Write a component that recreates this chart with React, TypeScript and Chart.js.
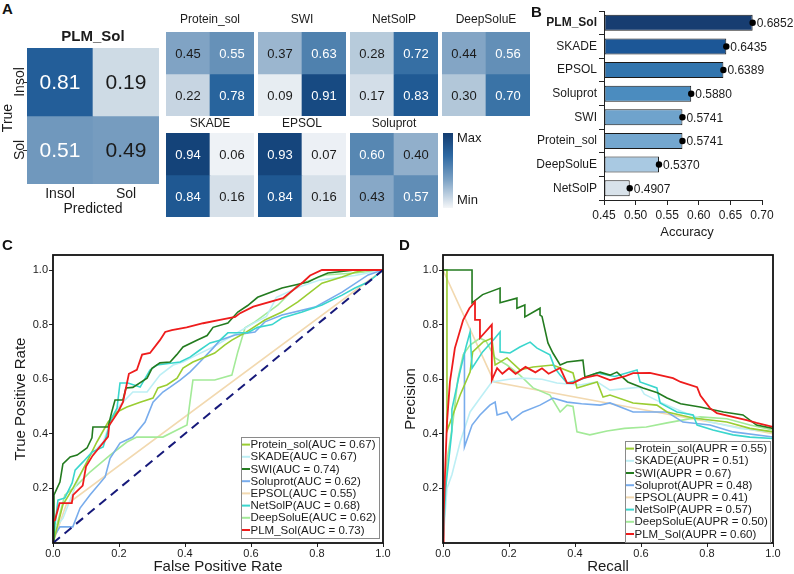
import React, { useEffect, useRef } from 'react';
import { Chart, registerables } from 'chart.js';

Chart.register(...registerables);

const FONT = '"Liberation Sans", Arial, Helvetica, sans-serif';
Chart.defaults.font.family = FONT;
Chart.defaults.color = '#222';

// ---------------- Panel A: confusion matrices (rows = true Insol / Sol, cols = predicted Insol / Sol)
const cmLabels = ['Insol', 'Sol'];
const cmPLMSol = [[0.81, 0.19], [0.51, 0.49]];
const cmProteinSol = [[0.45, 0.55], [0.22, 0.78]];
const cmSWI = [[0.37, 0.63], [0.09, 0.91]];
const cmNetSolP = [[0.28, 0.72], [0.17, 0.83]];
const cmDeepSoluE = [[0.44, 0.56], [0.30, 0.70]];
const cmSKADE = [[0.94, 0.06], [0.84, 0.16]];
const cmEPSOL = [[0.93, 0.07], [0.84, 0.16]];
const cmSoluprot = [[0.60, 0.40], [0.43, 0.57]];

// ---------------- Panel B: accuracy
const accModels = ['PLM_Sol', 'SKADE', 'EPSOL', 'Soluprot', 'SWI', 'Protein_sol', 'DeepSoluE', 'NetSolP'];
const accValues = [0.6852, 0.6435, 0.6389, 0.5880, 0.5741, 0.5741, 0.5370, 0.4907];
const accTicks = [0.45, 0.50, 0.55, 0.60, 0.65, 0.70];

// ---------------- Panels C / D
const curveModels = ['Protein_sol', 'SKADE', 'SWI', 'Soluprot', 'EPSOL', 'NetSolP', 'DeepSoluE', 'PLM_Sol'];
const aucValues = [0.67, 0.67, 0.74, 0.62, 0.55, 0.68, 0.62, 0.73];
const auprValues = [0.55, 0.51, 0.67, 0.48, 0.41, 0.57, 0.50, 0.60];
const curveTicksX = [0, 0.2, 0.4, 0.6, 0.8, 1.0];
const curveTicksY = [0.2, 0.4, 0.6, 0.8, 1.0];
const chanceLine = [[0, 0], [1, 1]];

const rocProteinSol = [[0, 0], [0.012, 0.055], [0.03, 0.14], [0.06, 0.2], [0.103, 0.297], [0.133, 0.37], [0.167, 0.443], [0.194, 0.48], [0.224, 0.498], [0.264, 0.516], [0.303, 0.531], [0.318, 0.568], [0.345, 0.579], [0.376, 0.604], [0.394, 0.641], [0.424, 0.663], [0.476, 0.689], [0.49, 0.696], [0.52, 0.725], [0.542, 0.743], [0.582, 0.77], [0.642, 0.817], [0.694, 0.846], [0.742, 0.883], [0.815, 0.952], [0.876, 0.974], [0.915, 0.992], [0.95, 1], [1, 1]];
const rocSKADE = [[0, 0], [0.006, 0.055], [0.03, 0.09], [0.073, 0.223], [0.112, 0.322], [0.152, 0.37], [0.182, 0.469], [0.203, 0.505], [0.242, 0.553], [0.285, 0.553], [0.324, 0.615], [0.364, 0.652], [0.394, 0.663], [0.436, 0.689], [0.485, 0.718], [0.53, 0.75], [0.6, 0.8], [0.647, 0.83], [0.677, 0.9], [0.748, 0.939], [0.808, 0.963], [0.915, 0.98], [1, 1]];
const rocSWI = [[0, 0], [0.003, 0.176], [0.021, 0.223], [0.03, 0.29], [0.052, 0.315], [0.073, 0.322], [0.103, 0.348], [0.118, 0.385], [0.121, 0.425], [0.167, 0.425], [0.178, 0.48], [0.188, 0.524], [0.212, 0.524], [0.221, 0.568], [0.242, 0.57], [0.285, 0.604], [0.3, 0.64], [0.324, 0.66], [0.355, 0.663], [0.375, 0.69], [0.394, 0.718], [0.436, 0.743], [0.467, 0.76], [0.485, 0.79], [0.53, 0.806], [0.56, 0.846], [0.59, 0.87], [0.62, 0.9], [0.694, 0.934], [0.773, 0.956], [0.803, 0.974], [0.833, 0.989], [0.915, 1], [1, 1]];
const rocSoluprot = [[0, 0], [0.006, 0.029], [0.021, 0.059], [0.06, 0.059], [0.082, 0.128], [0.112, 0.176], [0.158, 0.242], [0.173, 0.31], [0.203, 0.366], [0.242, 0.388], [0.279, 0.443], [0.303, 0.516], [0.333, 0.553], [0.355, 0.571], [0.385, 0.597], [0.415, 0.626], [0.445, 0.663], [0.485, 0.714], [0.506, 0.743], [0.552, 0.762], [0.612, 0.773], [0.642, 0.81], [0.694, 0.835], [0.794, 0.864], [0.876, 0.919], [0.955, 0.982], [1, 1]];
const rocEPSOL = [[0, 0], [0.04, 0.14], [1, 1]];
const rocNetSolP = [[0, 0], [0.006, 0.066], [0.015, 0.157], [0.036, 0.165], [0.058, 0.22], [0.067, 0.267], [0.091, 0.297], [0.118, 0.333], [0.152, 0.352], [0.178, 0.458], [0.194, 0.494], [0.203, 0.586], [0.227, 0.586], [0.264, 0.571], [0.294, 0.634], [0.315, 0.652], [0.385, 0.663], [0.415, 0.681], [0.445, 0.707], [0.476, 0.733], [0.506, 0.743], [0.53, 0.77], [0.59, 0.77], [0.62, 0.79], [0.664, 0.8], [0.694, 0.824], [0.755, 0.846], [0.815, 0.872], [0.876, 0.908], [0.915, 0.934], [0.955, 0.956], [1, 1]];
const rocDeepSoluE = [[0, 0], [0.006, 0.04], [0.036, 0.176], [0.073, 0.212], [0.112, 0.26], [0.173, 0.322], [0.224, 0.37], [0.254, 0.388], [0.333, 0.388], [0.406, 0.432], [0.415, 0.516], [0.424, 0.597], [0.49, 0.597], [0.542, 0.615], [0.56, 0.7], [0.582, 0.788], [0.612, 0.81], [0.682, 0.872], [0.742, 0.945], [0.824, 0.982], [0.915, 0.989], [1, 1]];
const rocPLMSol = [[0, 0], [0, 0.08], [0.006, 0.084], [0.02, 0.146], [0.057, 0.146], [0.061, 0.176], [0.09, 0.21], [0.1, 0.28], [0.12, 0.32], [0.167, 0.39], [0.17, 0.43], [0.197, 0.48], [0.212, 0.516], [0.23, 0.62], [0.254, 0.634], [0.27, 0.69], [0.294, 0.696], [0.324, 0.743], [0.34, 0.773], [0.36, 0.78], [0.405, 0.79], [0.455, 0.805], [0.506, 0.817], [0.552, 0.828], [0.567, 0.842], [0.607, 0.866], [0.697, 0.897], [0.758, 0.956], [0.779, 0.98], [0.815, 1], [1, 1]];

const prProteinSol = [[0, 1], [0.012, 1], [0.012, 0.41], [0.03, 0.47], [0.052, 0.542], [0.082, 0.626], [0.09, 0.7], [0.121, 0.736], [0.148, 0.75], [0.158, 0.652], [0.194, 0.678], [0.233, 0.634], [0.273, 0.645], [0.333, 0.652], [0.394, 0.623], [0.406, 0.568], [0.467, 0.59], [0.485, 0.535], [0.506, 0.542], [0.576, 0.513], [0.648, 0.505], [0.679, 0.48], [0.758, 0.458], [0.86, 0.443], [0.93, 0.42], [1, 0.407]];
const prSKADE = [[0, 0], [0.012, 0.2], [0.027, 0.25], [0.052, 0.37], [0.082, 0.48], [0.112, 0.53], [0.148, 0.59], [0.2, 0.6], [0.242, 0.604], [0.3, 0.6], [0.345, 0.586], [0.415, 0.579], [0.467, 0.59], [0.506, 0.56], [0.597, 0.571], [0.61, 0.545], [0.658, 0.516], [0.727, 0.48], [0.809, 0.443], [0.9, 0.42], [1, 0.407]];
const prSWI = [[0, 1], [0.088, 1], [0.088, 0.88], [0.12, 0.91], [0.173, 0.934], [0.173, 0.88], [0.224, 0.897], [0.224, 0.86], [0.248, 0.872], [0.248, 0.828], [0.294, 0.86], [0.294, 0.835], [0.3, 0.83], [0.318, 0.733], [0.333, 0.696], [0.355, 0.652], [0.376, 0.663], [0.424, 0.67], [0.43, 0.608], [0.476, 0.626], [0.506, 0.615], [0.527, 0.626], [0.56, 0.59], [0.606, 0.568], [0.65, 0.55], [0.679, 0.531], [0.72, 0.51], [0.779, 0.498], [0.85, 0.48], [0.909, 0.469], [0.95, 0.432], [1, 0.42]];
const prSoluprot = [[0.065, 0.7], [0.065, 0.352], [0.088, 0.432], [0.112, 0.469], [0.142, 0.505], [0.158, 0.516], [0.164, 0.469], [0.194, 0.48], [0.209, 0.45], [0.242, 0.48], [0.294, 0.505], [0.333, 0.531], [0.376, 0.516], [0.42, 0.51], [0.476, 0.505], [0.506, 0.513], [0.576, 0.48], [0.679, 0.48], [0.727, 0.443], [0.809, 0.432], [0.879, 0.407], [1, 0.388]];
const prEPSOL = [[0, 1], [0.155, 0.59], [1, 0.4]];
const prNetSolP = [[0, 0], [0.008, 0.2], [0.027, 0.41], [0.027, 0.49], [0.05, 0.62], [0.07, 0.72], [0.082, 0.773], [0.088, 0.64], [0.12, 0.7], [0.15, 0.74], [0.173, 0.773], [0.173, 0.7], [0.203, 0.696], [0.233, 0.718], [0.264, 0.736], [0.285, 0.714], [0.324, 0.689], [0.339, 0.641], [0.355, 0.615], [0.376, 0.586], [0.42, 0.6], [0.467, 0.623], [0.52, 0.61], [0.588, 0.634], [0.597, 0.59], [0.648, 0.568], [0.658, 0.513], [0.709, 0.48], [0.758, 0.469], [0.77, 0.432], [0.818, 0.414], [0.879, 0.396], [0.93, 0.388], [1, 0.383]];
const prDeepSoluE = [[0, 0], [0.012, 0.3], [0.03, 0.443], [0.045, 0.6], [0.061, 0.689], [0.082, 0.725], [0.112, 0.75], [0.13, 0.74], [0.158, 0.678], [0.194, 0.652], [0.233, 0.615], [0.273, 0.568], [0.324, 0.542], [0.355, 0.48], [0.376, 0.505], [0.394, 0.5], [0.406, 0.407], [0.445, 0.396], [0.497, 0.41], [0.55, 0.42], [0.616, 0.425], [0.679, 0.44], [0.779, 0.462], [0.86, 0.455], [0.93, 0.432], [1, 0.414]];
const prPLMSol = [[0, 0], [0.002, 0.1], [0.006, 0.25], [0.012, 0.44], [0.021, 0.59], [0.036, 0.714], [0.061, 0.817], [0.08, 0.86], [0.097, 0.883], [0.097, 0.817], [0.112, 0.817], [0.112, 0.751], [0.148, 0.8], [0.148, 0.597], [0.164, 0.641], [0.18, 0.62], [0.2, 0.64], [0.22, 0.62], [0.25, 0.645], [0.28, 0.625], [0.3, 0.64], [0.32, 0.62], [0.355, 0.641], [0.376, 0.586], [0.394, 0.586], [0.424, 0.604], [0.467, 0.615], [0.506, 0.597], [0.55, 0.61], [0.576, 0.622], [0.627, 0.623], [0.697, 0.604], [0.72, 0.59], [0.77, 0.571], [0.78, 0.54], [0.809, 0.494], [0.83, 0.476], [0.92, 0.45], [0.95, 0.44], [1, 0.425]];

const rocSeries = [rocProteinSol, rocSKADE, rocSWI, rocSoluprot, rocEPSOL, rocNetSolP, rocDeepSoluE, rocPLMSol];
const prSeries = [prProteinSol, prSKADE, prSWI, prSoluprot, prEPSOL, prNetSolP, prDeepSoluE, prPLMSol];

// ---------------- styles
const curveColors = ['#9acd32', '#bdeff5', '#237b1f', '#78acec', '#f2d9b0', '#3ad6cd', '#a3ea98', '#ee1c1c'];
const curveOrder = [4, 6, 2, 5, 8, 3, 7, 1];
const accColors = ['#173d71', '#1c5797', '#3275ae', '#4b8cbf', '#6fa3cc', '#74a7cf', '#a9c9e2', '#d8e2ea'];

const CM_STOPS: [number, number[]][] = [
  [0, [246, 248, 250]], [0.06, [238, 242, 246]], [0.2, [204, 217, 228]], [0.3, [178, 199, 217]],
  [0.45, [128, 163, 196]], [0.55, [102, 145, 184]], [0.7, [58, 115, 166]], [0.8, [36, 96, 155]],
  [0.9, [24, 76, 133]], [1, [14, 54, 104]],
];
function cmColor(v: number) {
  for (let i = 1; i < CM_STOPS.length; i++) {
    const [t1, c1] = CM_STOPS[i];
    const [t0, c0] = CM_STOPS[i - 1];
    if (v <= t1) {
      const f = (v - t0) / (t1 - t0);
      const c = c0.map((a, k) => Math.round(a + (c1[k] - a) * f));
      return `rgb(${c[0]},${c[1]},${c[2]})`;
    }
  }
  return 'rgb(14,54,104)';
}

function ChartCanvas({ left, top, width, height, build }: any) {
  const ref = useRef<HTMLCanvasElement>(null);
  useEffect(() => {
    const chart = new Chart(ref.current as HTMLCanvasElement, build());
    return () => chart.destroy();
  }, []);
  return <canvas ref={ref} width={width} height={height} style={{ position: 'absolute', left, top, width, height }} />;
}

function heatmapConfig(matrix: number[][], title: string, big: boolean, titleGap: number, padding: any) {
  const datasets = matrix.map((row, r) => ({
    data: row.map(() => [matrix.length - 1 - r, matrix.length - r]),
    backgroundColor: row.map((v) => cmColor(v)),
    borderWidth: 0,
    barPercentage: 1,
    categoryPercentage: 1,
    grouped: false,
  }));
  const textPlugin = {
    id: 'heatText',
    afterDatasetsDraw(chart: any) {
      const { ctx, chartArea: ca } = chart;
      ctx.save();
      ctx.textAlign = 'center';
      ctx.textBaseline = 'middle';
      const rowCenters: number[] = [];
      const colCenters: number[] = [];
      matrix.forEach((row, r) => {
        const meta = chart.getDatasetMeta(r);
        meta.data.forEach((el: any, c: number) => {
          const v = row[c];
          const cy = (el.y + el.base) / 2;
          rowCenters[r] = cy;
          colCenters[c] = el.x;
          ctx.fillStyle = v > 0.5 ? '#ffffff' : '#1b1b1b';
          ctx.font = `${big ? 21 : 13}px ${FONT}`;
          ctx.fillText(v.toFixed(2), el.x, cy + 1);
        });
      });
      const cx = (ca.left + ca.right) / 2;
      ctx.fillStyle = '#1b1b1b';
      if (big) {
        ctx.font = `bold 15px ${FONT}`;
        ctx.fillText(title, cx, ca.top - titleGap);
        ctx.font = `14px ${FONT}`;
        cmLabels.forEach((lab, r) => {
          ctx.save();
          ctx.translate(ca.left - 7, rowCenters[r]);
          ctx.rotate(-Math.PI / 2);
          ctx.fillText(lab, 0, 0);
          ctx.restore();
          ctx.strokeStyle = '#333';
          ctx.lineWidth = 1;
          ctx.beginPath();
          ctx.moveTo(ca.left - 4, Math.round(rowCenters[r]) + 0.5);
          ctx.lineTo(ca.left, Math.round(rowCenters[r]) + 0.5);
          ctx.stroke();
        });
        cmLabels.forEach((lab, c) => {
          ctx.fillText(lab, colCenters[c], ca.bottom + 10);
        });
        ctx.fillText('Predicted', cx, ca.bottom + 25);
        ctx.save();
        ctx.translate(ca.left - 19, (ca.top + ca.bottom) / 2 + 2);
        ctx.rotate(-Math.PI / 2);
        ctx.fillText('True', 0, 0);
        ctx.restore();
      } else {
        ctx.font = `12px ${FONT}`;
        ctx.fillText(title, cx, ca.top - titleGap);
      }
      ctx.restore();
    },
  };
  return {
    type: 'bar',
    data: { labels: cmLabels, datasets },
    options: {
      animation: false,
      responsive: false,
      maintainAspectRatio: false,
      layout: { padding },
      plugins: { legend: { display: false }, tooltip: { enabled: false } },
      scales: {
        x: { display: false, type: 'category' },
        y: { display: false, type: 'linear', min: 0, max: matrix.length },
      },
    },
    plugins: [textPlugin],
  };
}

function accuracyConfig() {
  const valueLabels = {
    id: 'valueLabels',
    afterDatasetsDraw(chart: any) {
      const { ctx } = chart;
      const meta = chart.getDatasetMeta(1);
      ctx.save();
      ctx.font = `12px ${FONT}`;
      ctx.fillStyle = '#1b1b1b';
      ctx.textAlign = 'left';
      ctx.textBaseline = 'middle';
      meta.data.forEach((el: any, i: number) => {
        ctx.fillText(accValues[i].toFixed(4), el.x + 4, el.y + 1);
      });
      const ca = chart.chartArea;
      ctx.textAlign = 'center';
      ctx.font = `13px ${FONT}`;
      ctx.fillText('Accuracy', (ca.left + ca.right) / 2 + 4, ca.bottom + 32);
      ctx.restore();
    },
  };
  return {
    type: 'bar',
    data: {
      labels: accModels,
      datasets: [
        {
          type: 'bar',
          data: accValues,
          base: accTicks[0],
          backgroundColor: accColors,
          borderColor: '#1a1a1a',
          borderWidth: 1,
          borderSkipped: false,
          barPercentage: 0.68,
          categoryPercentage: 1,
          order: 2,
        },
        {
          type: 'line',
          data: accValues,
          showLine: false,
          pointRadius: 3.2,
          pointBackgroundColor: '#000',
          pointBorderColor: '#000',
          pointBorderWidth: 0,
          order: 1,
        },
      ],
    },
    options: {
      indexAxis: 'y',
      animation: false,
      responsive: false,
      maintainAspectRatio: false,
      layout: { padding: { left: 0, right: 32, top: 11, bottom: 20 } },
      plugins: { legend: { display: false }, tooltip: { enabled: false } },
      scales: {
        x: {
          type: 'linear',
          min: accTicks[0],
          max: accTicks[accTicks.length - 1],
          afterBuildTicks: (s: any) => { s.ticks = accTicks.map((v) => ({ value: v })); },
          ticks: { callback: (v: any) => Number(v).toFixed(2), font: { size: 12 }, color: '#1b1b1b', padding: 3, maxRotation: 0 },
          grid: { display: true, drawOnChartArea: false, drawTicks: true, tickLength: 5, color: '#222', lineWidth: 1 },
          border: { display: true, color: '#222', width: 1 },
          afterFit: (s: any) => { s.height = 25; },
        },
        y: {
          type: 'category',
          ticks: {
            font: (c: any) => ({ size: 12, weight: c.index === 0 ? 'bold' : 'normal' }),
            color: '#1b1b1b',
            padding: 2,
          },
          grid: { display: true, drawOnChartArea: false, drawTicks: true, tickLength: 5, color: '#222', lineWidth: 1 },
          border: { display: true, color: '#222', width: 1 },
          afterFit: (s: any) => { s.width = 79; },
        },
      },
    },
    plugins: [valueLabels],
  };
}

function curveConfig(series: number[][][], metric: string, values: number[], xTitle: string, yTitle: string, legendGap: { r: number; b: number }, padding: any) {
  const datasets: any[] = series.map((pts, i) => ({
    label: curveModels[i],
    data: pts.map(([x, y]) => ({ x, y })),
    showLine: true,
    borderColor: curveColors[i],
    backgroundColor: curveColors[i],
    borderWidth: i === 7 ? 1.8 : 1.6,
    pointRadius: 0,
    tension: 0,
    fill: false,
    order: curveOrder[i],
  }));
  if (metric === 'AUC') {
    datasets.push({
      label: 'chance',
      data: chanceLine.map(([x, y]) => ({ x, y })),
      showLine: true,
      borderColor: '#16197a',
      borderWidth: 2,
      borderDash: [9, 6],
      pointRadius: 0,
      order: 0,
    });
  }
  const deco = {
    id: 'deco',
    afterDraw(chart: any) {
      const { ctx, chartArea: ca } = chart;
      ctx.save();
      // frame
      ctx.strokeStyle = '#111';
      ctx.lineWidth = 1.8;
      ctx.strokeRect(ca.left, ca.top, ca.right - ca.left, ca.bottom - ca.top);
      // legend
      ctx.font = `11.5px ${FONT}`;
      const labels = curveModels.map((m, i) => `${m}(${metric} = ${values[i].toFixed(2)})`);
      const tw = Math.max(...labels.map((l) => ctx.measureText(l).width));
      const rowH = 12.2;
      const w = Math.round(tw + 12);
      const h = Math.round(rowH * labels.length + 3);
      const x1 = Math.round(ca.right - legendGap.r - w);
      const y1 = Math.round(ca.bottom - legendGap.b - h);
      ctx.fillStyle = '#fff';
      ctx.fillRect(x1, y1, w, h);
      ctx.strokeStyle = '#8a8a8a';
      ctx.lineWidth = 1;
      ctx.strokeRect(x1 + 0.5, y1 + 0.5, w, h);
      ctx.textAlign = 'left';
      ctx.textBaseline = 'middle';
      labels.forEach((l, i) => {
        const cy = y1 + 1.5 + rowH * (i + 0.5);
        ctx.strokeStyle = curveColors[i];
        ctx.lineWidth = 2;
        ctx.beginPath();
        ctx.moveTo(x1 + 1, cy);
        ctx.lineTo(x1 + 9, cy);
        ctx.stroke();
        ctx.fillStyle = '#1b1b1b';
        ctx.fillText(l, x1 + 9.5, cy + 0.5);
      });
      // axis titles
      ctx.font = `15px ${FONT}`;
      ctx.textAlign = 'center';
      ctx.fillStyle = '#1b1b1b';
      ctx.fillText(xTitle, (ca.left + ca.right) / 2, ca.bottom + 24);
      ctx.save();
      ctx.translate(ca.left - 32, (ca.top + ca.bottom) / 2);
      ctx.rotate(-Math.PI / 2);
      ctx.fillText(yTitle, 0, 0);
      ctx.restore();
      ctx.restore();
    },
  };
  return {
    type: 'scatter',
    data: { datasets },
    options: {
      animation: false,
      responsive: false,
      maintainAspectRatio: false,
      layout: { padding },
      plugins: { legend: { display: false }, tooltip: { enabled: false } },
      scales: {
        x: {
          type: 'linear',
          min: 0,
          max: 1,
          afterBuildTicks: (s: any) => { s.ticks = curveTicksX.map((v) => ({ value: v })); },
          ticks: { callback: (v: any) => Number(v).toFixed(1), font: { size: 11 }, color: '#1b1b1b', padding: 0, maxRotation: 0 },
          grid: { display: true, drawOnChartArea: false, drawTicks: true, tickLength: 4, color: '#222' },
          border: { display: false },
          afterFit: (s: any) => { s.height = 20; },
        },
        y: {
          type: 'linear',
          min: 0,
          max: 1.055,
          afterBuildTicks: (s: any) => { s.ticks = curveTicksY.map((v) => ({ value: v })); },
          ticks: { callback: (v: any) => Number(v).toFixed(1), font: { size: 11 }, color: '#1b1b1b', padding: 1 },
          grid: { display: true, drawOnChartArea: false, drawTicks: true, tickLength: 4, color: '#222' },
          border: { display: false },
          afterFit: (s: any) => { s.width = 30; },
        },
      },
    },
    plugins: [deco],
  };
}

const letterStyle = (left: number, top: number): React.CSSProperties => ({
  position: 'absolute', left, top, fontFamily: FONT, fontWeight: 'bold', fontSize: 15, lineHeight: '15px', color: '#111',
});

export default function App() {
  const small = [
    { m: cmProteinSol, t: 'Protein_sol', x: 166, y: 32, g: 12 },
    { m: cmSWI, t: 'SWI', x: 258, y: 32, g: 12 },
    { m: cmNetSolP, t: 'NetSolP', x: 350, y: 32, g: 12 },
    { m: cmDeepSoluE, t: 'DeepSoluE', x: 442, y: 32, g: 12 },
    { m: cmSKADE, t: 'SKADE', x: 166, y: 133, g: 9 },
    { m: cmEPSOL, t: 'EPSOL', x: 258, y: 133, g: 9 },
    { m: cmSoluprot, t: 'Soluprot', x: 350, y: 133, g: 9 },
  ];
  return (
    <div style={{ position: 'absolute', left: 0, top: 0, width: 794, height: 574, background: '#fff', overflow: 'hidden', fontFamily: FONT }}>
      <ChartCanvas left={0} top={25} width={166} height={200}
        build={() => heatmapConfig(cmPLMSol, 'PLM_Sol', true, 11, { left: 27, right: 7, top: 23, bottom: 41 })} />
      {small.map((s) => (
        <ChartCanvas key={s.t} left={s.x - 2} top={s.y - 18} width={92} height={104}
          build={() => heatmapConfig(s.m, s.t, false, s.g, { left: 2, right: 2, top: 18, bottom: 2 })} />
      ))}
      <div style={{ position: 'absolute', left: 443, top: 133, width: 10, height: 75, background: 'linear-gradient(to bottom, #133c70 0%, #2d68a2 30%, #7ba1c4 62%, #f4f6f8 100%)' }} />
      <div style={{ position: 'absolute', left: 457, top: 130, fontSize: 13, lineHeight: '16px', color: '#1b1b1b' }}>Max</div>
      <div style={{ position: 'absolute', left: 457, top: 192, fontSize: 13, lineHeight: '16px', color: '#1b1b1b' }}>Min</div>

      <ChartCanvas left={525} top={0} width={269} height={245} build={() => accuracyConfig()} />

      <ChartCanvas left={0} top={235} width={400} height={339}
        build={() => curveConfig(rocSeries, 'AUC', aucValues, 'False Positive Rate', 'True Positive Rate', { r: 4, b: 5 }, { left: 23, right: 17, top: 20, bottom: 11 })} />
      <ChartCanvas left={400} top={235} width={394} height={339}
        build={() => curveConfig(prSeries, 'AUPR', auprValues, 'Recall', 'Precision', { r: 3, b: 1 }, { left: 13, right: 21, top: 20, bottom: 11 })} />

      <div style={letterStyle(2, 1)}>A</div>
      <div style={letterStyle(531, 4)}>B</div>
      <div style={letterStyle(2, 237)}>C</div>
      <div style={letterStyle(399, 237)}>D</div>
    </div>
  );
}
